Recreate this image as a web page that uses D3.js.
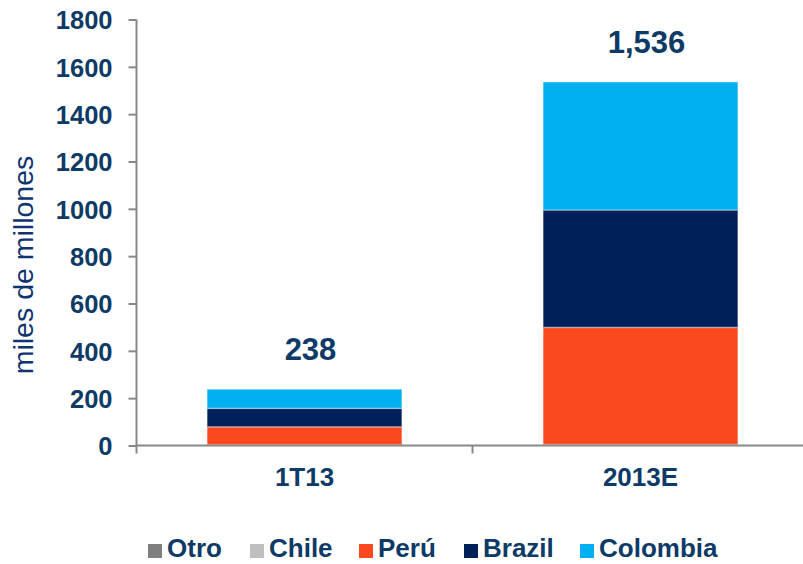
<!DOCTYPE html>
<html><head><meta charset="utf-8">
<script src="https://cdn.jsdelivr.net/npm/d3@7"></script>
<style>body{margin:0;background:#fff}svg{display:block;font-family:"Liberation Sans",Arial,sans-serif}</style>
</head><body><svg id="c" width="803" height="564"></svg>
<script>
const categories = ["1T13", "2013E"];
const seriesNames = ["Otro", "Chile", "Perú", "Brazil", "Colombia"];
const otro = [0, 0];
const chile = [3, 4];
const peru = [76, 495];
const brazil = [78, 496];
const colombia = [81, 541];
const totals = ["238", "1,536"];
const yTicks = [0, 200, 400, 600, 800, 1000, 1200, 1400, 1600, 1800];
const colors = ["#7f7f7f", "#bfbfbf", "#fa481e", "#00205b", "#00b0f0"];

const rows = categories.map((c, i) => ({cat: c, Otro: otro[i], Chile: chile[i], "Perú": peru[i], Brazil: brazil[i], Colombia: colombia[i]}));
const svg = d3.select("#c");
const x = d3.scaleBand().domain(categories).range([136.5, 808.5]).paddingInner(0.42).paddingOuter(0.21);
const y = d3.scaleLinear().domain([0, 1800]).range([445.5, 19.5]);
const stack = d3.stack().keys(seriesNames)(rows);
const txt = "#0d3a66";

// bars
svg.append("g").selectAll("g").data(stack).join("g")
  .attr("fill", (d, i) => colors[i])
  .selectAll("rect").data(d => d).join("rect")
  .attr("x", d => x(d.data.cat))
  .attr("width", x.bandwidth())
  .attr("y", d => y(d[1]))
  .attr("height", d => Math.max(0, y(d[0]) - y(d[1])))
  .attr("stroke", "rgba(255,255,255,0.35)").attr("stroke-width", 1.5);

// y axis
const ya = svg.append("g").attr("transform", "translate(136.5,0)")
  .call(d3.axisLeft(y).tickValues(yTicks).tickSize(8).tickPadding(16).tickFormat(d3.format("d")));
ya.select(".domain").attr("stroke", "#888").attr("stroke-width", 2).attr("d", "M0,19.5V453.5");
ya.selectAll(".tick line").attr("stroke", "#888").attr("stroke-width", 2);
ya.selectAll(".tick text").attr("fill", txt).attr("font-size", 25.5).attr("font-weight", "bold").attr("dy", "0.36em").attr("font-family", "Liberation Sans, Arial, sans-serif");

// x axis
const xa = svg.append("g").attr("transform", "translate(0,445.5)")
  .call(d3.axisBottom(x).tickSize(0).tickPadding(22));
xa.select(".domain").attr("stroke", "#888").attr("stroke-width", 2).attr("d", "M136,0H803");
xa.selectAll(".tick text").attr("fill", txt).attr("font-size", 26).attr("font-weight", "bold").attr("font-family", "Liberation Sans, Arial, sans-serif");
// category separator tick
const sep = (x(categories[0]) + x.bandwidth() + x(categories[1])) / 2;
svg.append("line")
  .attr("x1", sep).attr("x2", sep).attr("y1", 445.5).attr("y2", 453.5)
  .attr("stroke", "#888").attr("stroke-width", 2);

// total labels
svg.append("g").selectAll("text").data(categories).join("text")
  .attr("x", d => x(d) + x.bandwidth() / 2 + 6)
  .attr("y", (d, i) => y(d3.sum(seriesNames, k => rows[i][k])) - 29)
  .attr("text-anchor", "middle").attr("fill", txt).attr("font-weight", "bold").attr("font-size", 31)
  .text((d, i) => totals[i]);

// y title
svg.append("text").attr("transform", "translate(33,265) rotate(-90)")
  .attr("text-anchor", "middle").attr("fill", "#0f3470").attr("font-size", 28.5)
  .text("miles de millones");

// legend
const legX = [148, 250, 359, 464, 580];
const lg = svg.append("g").selectAll("g").data(seriesNames).join("g")
  .attr("transform", (d, i) => `translate(${legX[i]},0)`);
lg.append("rect").attr("x", 0).attr("y", 544).attr("width", 14).attr("height", 14).attr("fill", (d, i) => colors[i]);
lg.append("text").attr("x", 19).attr("y", 557).attr("fill", txt).attr("font-weight", "bold").attr("font-size", 26).text(d => d);
</script></body></html>
